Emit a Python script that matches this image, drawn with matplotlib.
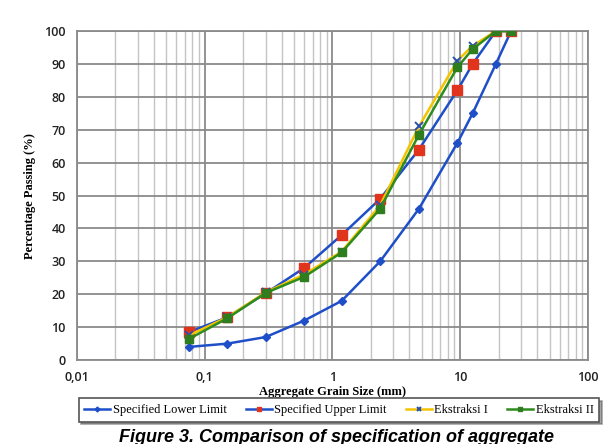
import matplotlib
matplotlib.use("Agg")
import matplotlib.pyplot as plt
from matplotlib.ticker import FixedLocator, FixedFormatter, LogLocator, NullFormatter

sieve = [0.075, 0.15, 0.3, 0.6, 1.18, 2.36, 4.75, 9.5, 12.5, 19, 25]
lower = [4, 5, 7, 12, 18, 30, 46, 66, 75, 90, 100]
upper = [8.5, 13, 20.3, 28, 38, 49, 64, 82, 90, 100, 100]
ekstraksi1 = [7.5, 13, 20.6, 26, 33, 47, 71, 91, 95.5, 100, 100]
ekstraksi2 = [6.4, 12.7, 20.4, 25.3, 32.7, 46, 68.5, 89, 94.5, 100, 100]
xticks = [0.01, 0.1, 1, 10, 100]
xticklabels = ["0,01", "0,1", "1", "10", "100"]
yticks = [0, 10, 20, 30, 40, 50, 60, 70, 80, 90, 100]

fig = plt.figure(figsize=(6.13, 4.44), dpi=100)
ax = fig.add_axes([0.1256, 0.189, 0.8336, 0.741])

blue = "#1f4fc8"
ax.plot(sieve, lower, color=blue, lw=1.8, marker="D", ms=4.5, mfc=blue, mec=blue,
        label="Specified Lower Limit", zorder=3)
ax.plot(sieve, upper, color=blue, lw=1.8, marker="s", ms=6.5, mfc="#e0341c", mec="#e0341c",
        label="Specified Upper Limit", zorder=4)
ax.plot(sieve, ekstraksi1, color="#f5c400", lw=1.8, marker="x", ms=5.5, mec="#2a4fb0", mew=1.4,
        label="Ekstraksi I", zorder=5)
ax.plot(sieve, ekstraksi2, color="#2e8b1e", lw=1.8, marker="s", ms=5.5, mfc="#2e7d1e", mec="#2e7d1e",
        label="Ekstraksi II", zorder=6)

ax.set_xscale("log")
ax.set_xlim(0.01, 100)
ax.set_ylim(0, 100)
ax.xaxis.set_major_locator(FixedLocator(xticks))
ax.xaxis.set_major_formatter(FixedFormatter(xticklabels))
ax.xaxis.set_minor_locator(LogLocator(base=10, subs=range(2, 10)))
ax.xaxis.set_minor_formatter(NullFormatter())
ax.set_yticks(yticks)

ax.grid(True, which="major", axis="both", color="#8a8a8a", lw=1.3)
ax.grid(True, which="minor", axis="x", color="#c4c4c4", lw=1.0)
ax.set_axisbelow(True)
for s in ax.spines.values():
    s.set_color("#8a8a8a")
    s.set_linewidth(1.3)
ax.tick_params(which="both", length=0, labelsize=9, colors="#222222", pad=8)
for lab in ax.get_xticklabels() + ax.get_yticklabels():
    lab.set_fontfamily("Open Sans")
    lab.set_fontweight("semibold")

ax.set_xlabel("Aggregate Grain Size (mm)", fontfamily="Liberation Serif", fontweight="bold",
              fontsize=9, labelpad=1)
ax.set_ylabel("Percentage Passing (%)", fontfamily="Liberation Serif", fontweight="bold",
              fontsize=9, labelpad=6)

leg = fig.legend(loc="center", bbox_to_anchor=(0.553, 0.0766), ncol=4, frameon=True,
                 fancybox=False, shadow=True, prop={"family": "Liberation Serif", "size": 9},
                 handlelength=2.1, columnspacing=1.5, handletextpad=0.2, borderpad=0.45,
                 markerscale=0.55)
leg.get_frame().set_edgecolor("#555555")
leg.get_frame().set_linewidth(1.2)

fig.text(0.549, 0.034, "Figure 3. Comparison of specification of aggregate", ha="center",
         va="top", fontsize=13, fontweight="bold", fontstyle="italic",
         fontfamily="Liberation Sans")

fig.savefig("out.png", dpi=100)
